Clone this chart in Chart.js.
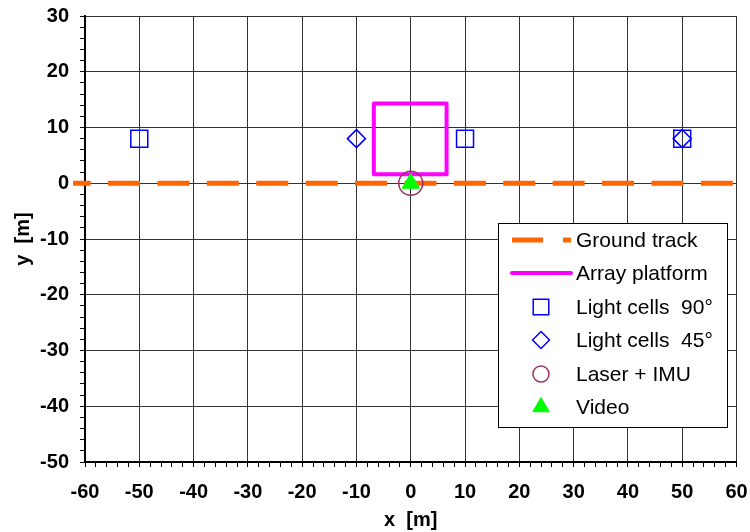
<!DOCTYPE html>
<html>
<head>
<meta charset="utf-8">
<script src="https://cdn.jsdelivr.net/npm/chart.js@4.4.1/dist/chart.umd.min.js"></script>
<style>
html,body{margin:0;padding:0;background:#fff;}
#wrap{width:750px;height:532px;position:relative;}
</style>
</head>
<body>
<div id="wrap"><canvas id="c" width="750" height="532"></canvas></div>
<script>
// ---- data ----
const groundTrackX = [-62.2, 60];
const groundTrackY = [0, 0];
const platformX = [-6.8, -6.8, 6.6, 6.6, -6.8];
const platformY = [1.6, 14.3, 14.3, 1.6, 1.6];
const cells90X = [-50, 10, 50];
const cells90Y = [8, 8, 8];
const cells45X = [-10, 50];
const cells45Y = [8, 8];
const laserX = [0];
const laserY = [0];
const videoX = [0];
const videoY = [0];
const seriesNames = ["Ground track", "Array platform", "Light cells  90°", "Light cells  45°", "Laser + IMU", "Video"];
const xTitle = "x  [m]";
const yTitle = "y  [m]";

const pts = (xs, ys) => xs.map((x, i) => ({x: x, y: ys[i]}));

const datasets = [
  {label: seriesNames[0], data: pts(groundTrackX, groundTrackY), showLine: true, borderColor: '#FF6600',
   borderWidth: 5, borderDash: [32, 17.4], borderDashOffset: 14.4, pointRadius: 0, clip: false, order: 5},
  {label: seriesNames[1], data: pts(platformX, platformY), showLine: true, borderColor: '#FF00FF',
   borderWidth: 4, borderJoinStyle: 'round', borderCapStyle: 'round', pointRadius: 0, order: 4},
  {label: seriesNames[2], data: pts(cells90X, cells90Y), showLine: false, pointStyle: 'rect', pointRadius: 12,
   borderColor: '#0000FF', backgroundColor: 'rgba(0,0,0,0)', borderWidth: 1.5, order: 3},
  {label: seriesNames[3], data: pts(cells45X, cells45Y), showLine: false, pointStyle: 'rectRot', pointRadius: 9,
   borderColor: '#0000FF', backgroundColor: 'rgba(0,0,0,0)', borderWidth: 1.5, order: 2},
  {label: seriesNames[4], data: pts(laserX, laserY), showLine: false, pointStyle: 'circle', pointRadius: 12,
   borderColor: '#993366', backgroundColor: 'rgba(0,0,0,0)', borderWidth: 1.5, order: 1},
  {label: seriesNames[5], data: pts(videoX, videoY), showLine: false, pointStyle: 'triangle', pointRadius: 10,
   borderColor: '#00FF00', backgroundColor: '#00FF00', borderWidth: 1, order: 0}
];

const legendRadius = {rect: 11, rectRot: 8.5, circle: 8, triangle: 9.5};

const boxLegend = {
  id: 'boxLegend',
  afterDraw(chart) {
    const ctx = chart.ctx;
    const bx = 498, by = 223, bw = 229, bh = 204;
    ctx.save();
    ctx.fillStyle = '#fff';
    ctx.fillRect(bx, by, bw, bh);
    ctx.strokeStyle = '#000';
    ctx.lineWidth = 1;
    ctx.strokeRect(bx + 0.5, by + 0.5, bw, bh);
    const rowY = [240, 273, 307, 340, 374, 407];
    const textX = 576, mx = 541;
    chart.data.datasets.forEach((ds, i) => {
      const y = rowY[i];
      if (ds.showLine) {
        ctx.beginPath();
        ctx.strokeStyle = ds.borderColor;
        ctx.lineWidth = ds.borderWidth;
        if (i === 0) { ctx.setLineDash([31, 20]); ctx.lineCap = 'butt'; }
        else { ctx.setLineDash([]); ctx.lineCap = 'round'; }
        ctx.moveTo(512, y); ctx.lineTo(571, y);
        ctx.stroke();
        ctx.setLineDash([]);
      } else {
        ctx.lineCap = 'butt';
        ctx.fillStyle = ds.backgroundColor;
        ctx.strokeStyle = ds.borderColor;
        ctx.lineWidth = ds.borderWidth;
        Chart.helpers.drawPoint(ctx, {
          pointStyle: ds.pointStyle,
          radius: legendRadius[ds.pointStyle],
          borderWidth: ds.borderWidth,
          rotation: 0
        }, mx, y);
      }
      ctx.fillStyle = '#000';
      ctx.font = '21px "Liberation Sans", Arial, sans-serif';
      ctx.textAlign = 'left';
      ctx.textBaseline = 'middle';
      ctx.fillText(ds.label, textX, y + 1);
    });
    ctx.restore();
  }
};

const gridCol = ctx => (ctx.tick && Math.round(ctx.tick.value) % 10 === 0) ? '#333' : 'rgba(0,0,0,0)';
const tickFont = {family: '"Liberation Sans", Arial, sans-serif', size: 20, weight: 'bold'};

new Chart(document.getElementById('c'), {
  type: 'scatter',
  data: {datasets: datasets},
  options: {
    responsive: false,
    animation: false,
    events: [],
    layout: {padding: {top: 16, right: 12, left: 0, bottom: 0}},
    plugins: {legend: {display: false}, tooltip: {enabled: false}},
    scales: {
      x: {
        type: 'linear', min: -60, max: 60,
        afterFit: s => { s.height = 70; s.paddingLeft = 0; s.paddingRight = 0; },
        ticks: {stepSize: 2, autoSkip: false, maxRotation: 0, color: '#000', font: tickFont, padding: 13,
          callback: v => (Math.round(v) % 10 === 0 ? String(v) : '')},
        grid: {color: gridCol, tickColor: '#000', tickLength: 5, lineWidth: 1},
        border: {color: '#000', width: 2},
        title: {display: true, text: xTitle, color: '#000', font: tickFont, padding: {top: 0, bottom: 0}}
      },
      y: {
        type: 'linear', min: -50, max: 30,
        afterFit: s => { s.width = 85; s.paddingTop = 0; s.paddingBottom = 0; },
        ticks: {stepSize: 2, autoSkip: false, color: '#000', font: tickFont, padding: 11,
          callback: v => (Math.round(v) % 10 === 0 ? String(v) : '')},
        grid: {color: gridCol, tickColor: '#000', tickLength: 5, lineWidth: 1},
        border: {color: '#000', width: 2},
        title: {display: true, text: yTitle, color: '#000', font: tickFont, padding: {top: 11, bottom: 0}}
      }
    }
  },
  plugins: [boxLegend]
});
</script>
</body>
</html>
